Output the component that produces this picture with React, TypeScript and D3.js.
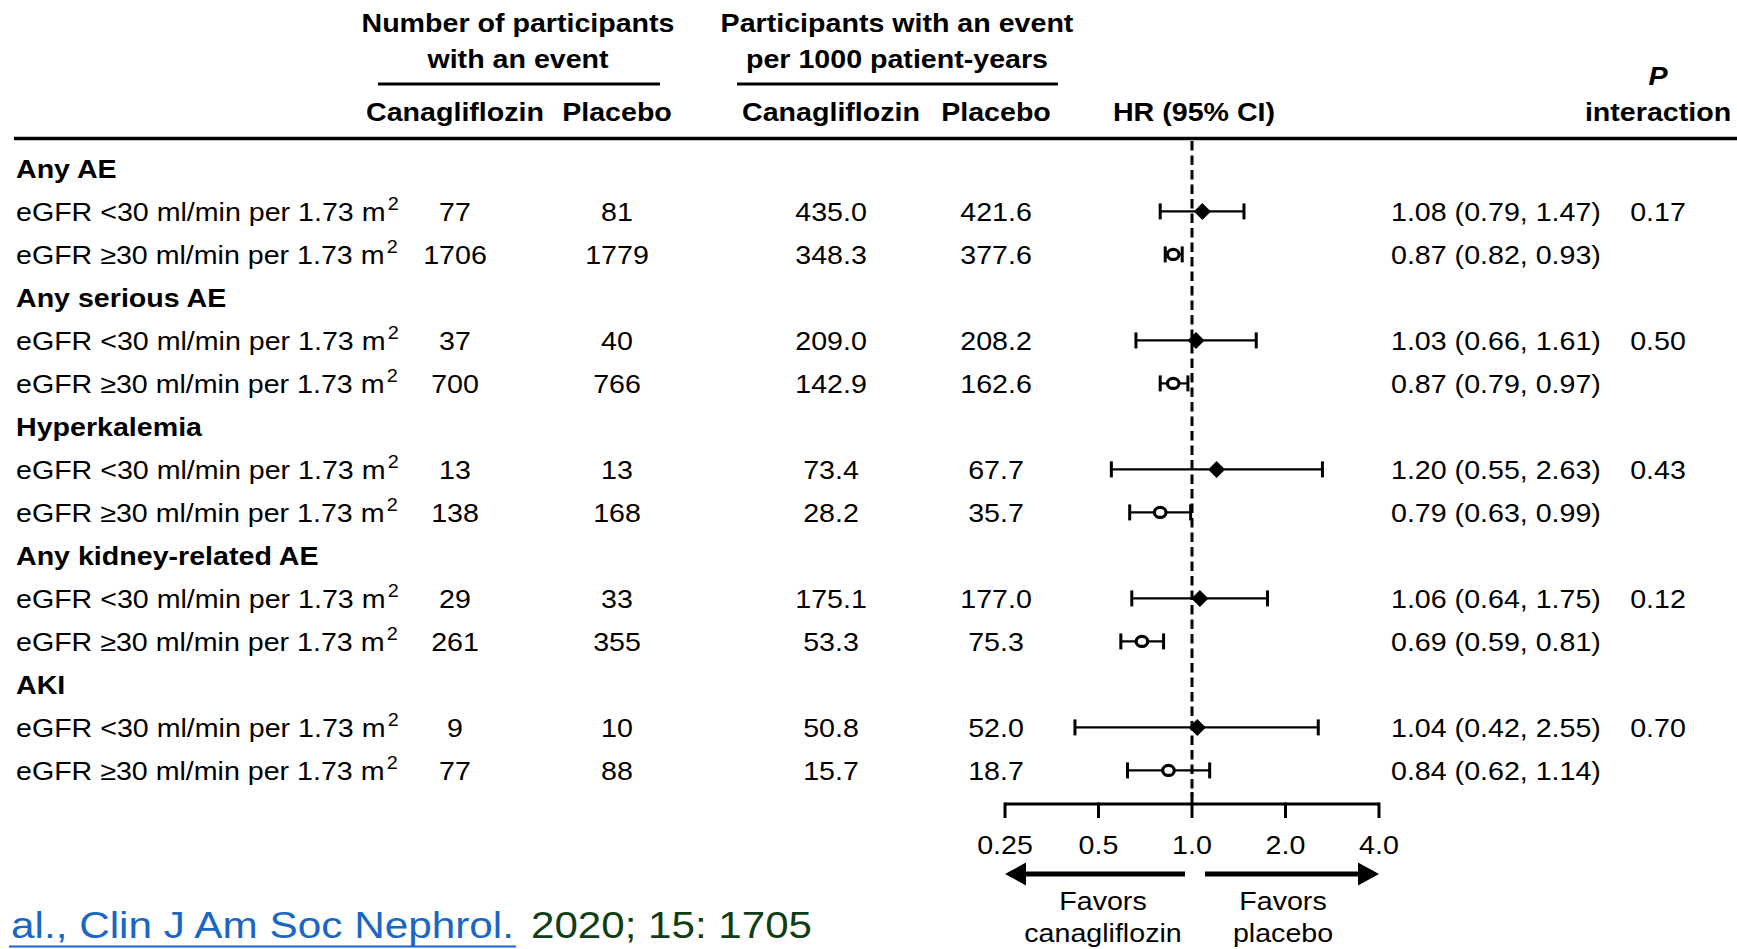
import React from "react";
import * as d3 from "d3";

const outcomes = ["Any AE", "Any serious AE", "Hyperkalemia", "Any kidney-related AE", "AKI"];
const subgroups = ["eGFR <30 ml/min per 1.73 m", "eGFR \u226530 ml/min per 1.73 m"];

// one entry per subgroup row, outcome by outcome (<30 then >=30)
const nCana = [77, 1706, 37, 700, 13, 138, 29, 261, 9, 77];
const nPlacebo = [81, 1779, 40, 766, 13, 168, 33, 355, 10, 88];
const rateCana = ["435.0", "348.3", "209.0", "142.9", "73.4", "28.2", "175.1", "53.3", "50.8", "15.7"];
const ratePlacebo = ["421.6", "377.6", "208.2", "162.6", "67.7", "35.7", "177.0", "75.3", "52.0", "18.7"];
const hr = [1.08, 0.87, 1.03, 0.87, 1.2, 0.79, 1.06, 0.69, 1.04, 0.84];
const ciLow = [0.79, 0.82, 0.66, 0.79, 0.55, 0.63, 0.64, 0.59, 0.42, 0.62];
const ciHigh = [1.47, 0.93, 1.61, 0.97, 2.63, 0.99, 1.75, 0.81, 2.55, 1.14];
const pInteraction = ["0.17", "0.50", "0.43", "0.12", "0.70"];

const axisTicks = [0.25, 0.5, 1, 2, 4];
const tickLabels = ["0.25", "0.5", "1.0", "2.0", "4.0"];

const FONT = "'Liberation Sans', Arial, Helvetica, sans-serif";
const FS = 26;
const SX = 1.1;

function T({ x, y, anchor = "middle", bold = false, italic = false, children, fill = "#000", size = FS }: any) {
  return (
    <text
      transform={`translate(${x},${y}) scale(${SX},1)`}
      textAnchor={anchor}
      fontWeight={bold ? "bold" : "normal"}
      fontStyle={italic ? "italic" : "normal"}
      fontSize={size}
      fill={fill}
    >
      {children}
    </text>
  );
}

export default function App() {
  const width = 1737;
  const height = 949;

  const x = d3.scaleLog().base(2).domain([0.25, 4]).range([1005, 1379]);
  const rowY = d3.scaleLinear().domain([0, 14]).range([168.4, 770.4]);
  const base = 9.4; // baseline offset from row centre

  const cols = { n1: 455, n2: 617, r1: 831, r2: 996, hr: 1391, p: 1658 };

  const rows: any[] = [];
  outcomes.forEach((o, oi) => {
    rows.push({ type: "group", label: o, idx: oi * 3 });
    subgroups.forEach((s, si) => {
      rows.push({ type: "sub", label: s, idx: oi * 3 + 1 + si, k: oi * 2 + si, si, oi });
    });
  });

  const axisY = 804;

  return (
    <svg
      width={width}
      height={height}
      style={{ position: "absolute", left: 0, top: 0, background: "#fff" }}
      fontFamily={FONT}
    >
      <rect width={width} height={height} fill="#fff" />

      {/* column headers */}
      <T x={518} y={32} bold>Number of participants</T>
      <T x={518} y={68} bold>with an event</T>
      <line x1={378} x2={660} y1={84} y2={84} stroke="#000" strokeWidth={3} />
      <T x={897} y={32} bold>Participants with an event</T>
      <T x={897} y={68} bold>per 1000 patient-years</T>
      <line x1={737} x2={1058} y1={84} y2={84} stroke="#000" strokeWidth={3} />

      <T x={cols.n1} y={121} bold>Canagliflozin</T>
      <T x={cols.n2} y={121} bold>Placebo</T>
      <T x={cols.r1} y={121} bold>Canagliflozin</T>
      <T x={cols.r2} y={121} bold>Placebo</T>
      <T x={1194} y={121} bold>HR (95% CI)</T>
      <T x={cols.p} y={85} bold italic>P</T>
      <T x={cols.p} y={121} bold>interaction</T>

      <line x1={14} x2={width} y1={138.5} y2={138.5} stroke="#000" strokeWidth={3.5} />

      {/* reference line at HR = 1 */}
      <line
        x1={x(1)}
        x2={x(1)}
        y1={141}
        y2={axisY - 8}
        stroke="#000"
        strokeWidth={3}
        strokeDasharray="9.5 5"
      />

      {rows.map((r, i) => {
        const cy = rowY(r.idx);
        if (r.type === "group") {
          return (
            <T key={i} x={16} y={cy + base} anchor="start" bold>
              {r.label}
            </T>
          );
        }
        const k = r.k;
        return (
          <g key={i}>
            <T x={16} y={cy + base} anchor="start">
              {r.label}
              <tspan fontSize={18} dx={2} dy={-11}>2</tspan>
            </T>
            <T x={cols.n1} y={cy + base}>{nCana[k]}</T>
            <T x={cols.n2} y={cy + base}>{nPlacebo[k]}</T>
            <T x={cols.r1} y={cy + base}>{rateCana[k]}</T>
            <T x={cols.r2} y={cy + base}>{ratePlacebo[k]}</T>
            <T x={cols.hr} y={cy + base} anchor="start">
              {`${hr[k].toFixed(2)} (${ciLow[k].toFixed(2)}, ${ciHigh[k].toFixed(2)})`}
            </T>
            {r.si === 0 && (
              <T x={cols.p} y={cy + base}>{pInteraction[r.oi]}</T>
            )}

            {/* CI */}
            <line x1={x(ciLow[k])} x2={x(ciHigh[k])} y1={cy} y2={cy} stroke="#000" strokeWidth={2.2} />
            <line x1={x(ciLow[k])} x2={x(ciLow[k])} y1={cy - 8} y2={cy + 8} stroke="#000" strokeWidth={3} />
            <line x1={x(ciHigh[k])} x2={x(ciHigh[k])} y1={cy - 8} y2={cy + 8} stroke="#000" strokeWidth={3} />
            {r.si === 0 ? (
              <path
                d={`M${x(hr[k])},${cy - 8.5} L${x(hr[k]) + 8.5},${cy} L${x(hr[k])},${cy + 8.5} L${x(hr[k]) - 8.5},${cy} Z`}
                fill="#000"
              />
            ) : (
              <ellipse cx={x(hr[k])} cy={cy} rx={5.8} ry={5} fill="#fff" stroke="#000" strokeWidth={3.2} />
            )}
          </g>
        );
      })}

      {/* HR axis */}
      <line x1={x(0.25)} x2={x(4)} y1={axisY} y2={axisY} stroke="#000" strokeWidth={3} />
      {axisTicks.map((t, i) => (
        <g key={t}>
          <line
            x1={x(t)}
            x2={x(t)}
            y1={t === 1 ? axisY - 12 : axisY - 1.5}
            y2={axisY + 14}
            stroke="#000"
            strokeWidth={3}
          />
          <T x={x(t)} y={854}>{tickLabels[i]}</T>
        </g>
      ))}

      {/* favours arrows */}
      <line x1={x(1) - 7} x2={x(0.25) + 18} y1={874} y2={874} stroke="#000" strokeWidth={5} />
      <path d={`M${x(0.25)},874 L${x(0.25) + 21},862.5 L${x(0.25) + 21},885.5 Z`} fill="#000" />
      <line x1={x(1) + 13} x2={x(4) - 18} y1={874} y2={874} stroke="#000" strokeWidth={5} />
      <path d={`M${x(4)},874 L${x(4) - 21},862.5 L${x(4) - 21},885.5 Z`} fill="#000" />

      <T x={1103} y={910}>Favors</T>
      <T x={1103} y={942}>canagliflozin</T>
      <T x={1283} y={910}>Favors</T>
      <T x={1283} y={942}>placebo</T>

      {/* citation */}
      <text
        x={11}
        y={938}
        fontSize={37}
        fill="#1a66c4"
        textLength={503}
        lengthAdjust="spacingAndGlyphs"
      >
        al., Clin J Am Soc Nephrol.
      </text>
      <line x1={9} x2={516} y1={946.5} y2={946.5} stroke="#1a66c4" strokeWidth={2} />
      <text
        x={531}
        y={938}
        fontSize={37}
        fill="#0f3d14"
        textLength={281}
        lengthAdjust="spacingAndGlyphs"
      >
        2020; 15: 1705
      </text>
    </svg>
  );
}
